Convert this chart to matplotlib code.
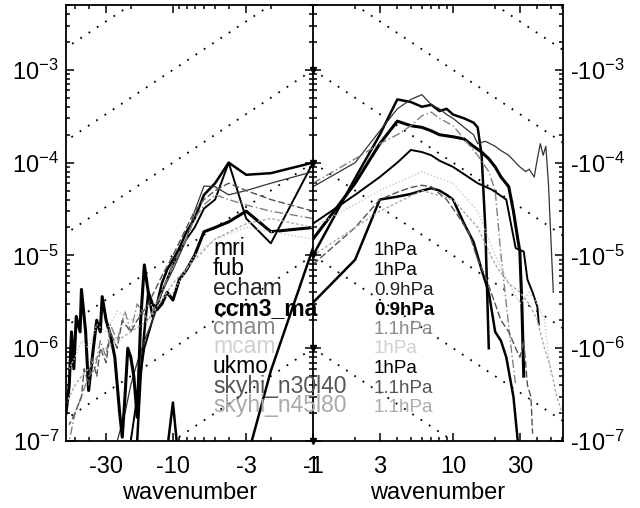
import numpy as np
import matplotlib
matplotlib.use('Agg')
import matplotlib.pyplot as plt
from matplotlib.ticker import FixedLocator, NullFormatter, LogLocator

plt.rcParams['font.family'] = ['Liberation Sans', 'DejaVu Sans']
plt.rcParams['mathtext.fontset'] = 'custom'
plt.rcParams['mathtext.rm'] = 'Liberation Sans'
plt.rcParams['mathtext.it'] = 'Liberation Sans:italic'
plt.rcParams['mathtext.bf'] = 'Liberation Sans:bold'

# ---------------- data ----------------
models = ['mri', 'fub', 'echam', 'ccm3_ma', 'cmam', 'mcam', 'ukmo',
          'skyhi_n30l40', 'skyhi_n45l80']
levels = ['1hPa', '1hPa', '0.9hPa', '0.9hPa', '1.1hPa', '1hPa', '1hPa',
          '1.1hPa', '1.1hPa']

# westward (negative) wavenumbers, stored as |k|
mri_w_k = [1, 2, 3, 4, 5, 6, 7, 8, 9, 10, 11, 12, 13, 14, 15, 16, 17, 18]
mri_w_v = [1.0e-4, 7.7e-5, 7.4e-5, 1.0e-4, 6.0e-5, 4.5e-5, 2.5e-5, 1.8e-5, 1.2e-5,
           9e-6, 7e-6, 5e-6, 3e-6, 2.2e-6, 4e-6, 1.5e-6, 5e-7, 1e-7]
fub_w_k = [1, 2, 3, 4, 5, 6, 7, 8, 10, 12, 14, 16, 18, 20]
fub_w_v = [1.0e-4, 1.35e-5, 2.5e-5, 1.0e-4, 4.0e-5, 3.2e-5, 2.0e-5, 1.5e-5, 8e-6,
           4e-6, 2e-6, 1e-6, 3e-7, 1e-7]
echam_w_k = [1, 2, 3, 4, 5, 6, 7, 8, 9, 10, 12, 14, 16, 18, 20, 22, 25]
echam_w_v = [8e-5, 6e-5, 5e-5, 4.5e-5, 5.5e-5, 5.6e-5, 3e-5, 1.5e-5, 1e-5, 7e-6,
             4e-6, 2e-6, 1.2e-6, 7e-7, 4e-7, 2e-7, 1e-7]
ccm3_w_k = [1, 2, 3, 4, 5, 6, 7, 8, 9, 10, 11, 12, 13, 14, 15, 16, 17, 18, 19, 20,
            21, 22, 23, 24, 26, 28, 30, 32, 33, 35, 37, 40, 42, 45, 46, 49, 51, 53,
            55, 58]
ccm3_w_v = [2e-5, 1.8e-5, 3e-5, 2.3e-5, 2.0e-5, 1.8e-5, 1e-5, 7e-6, 5.5e-6, 3.3e-6,
            4e-6, 3e-6, 2.6e-6, 3e-6, 4e-6, 7.9e-6, 2e-6, 1.8e-7, 4.9e-7, 8e-7,
            1e-6, 3e-7, 1.1e-7, 2e-7, 8e-7, 1.4e-6, 2e-6, 3.6e-6, 1.5e-6, 2e-6,
            1e-6, 3.5e-7, 1.5e-6, 4.3e-6, 1.5e-6, 2.2e-6, 6e-7, 1.5e-6, 4e-7, 2e-7]
cmam_w_k = [1, 2, 3, 4, 5, 6, 7, 8, 10, 12, 15, 18, 20, 22, 25, 28, 30, 33, 36,
            40, 45, 50, 55]
cmam_w_v = [2.5e-5, 3e-5, 3.5e-5, 4e-5, 4.5e-5, 3.5e-5, 2.5e-5, 1.5e-5, 8e-6,
            4e-6, 2e-6, 3e-6, 1.5e-6, 2.5e-6, 1.2e-6, 1.8e-6, 8e-7, 1.2e-6, 6e-7,
            5e-7, 3e-7, 2e-7, 1e-7]
mcam_w_k = [1, 2, 3, 5, 7, 10, 14, 20, 25, 30, 35, 40, 45, 50, 55]
mcam_w_v = [1.5e-5, 1.8e-5, 2e-5, 1.5e-5, 1e-5, 4e-6, 3e-6, 2e-6, 2.5e-6, 1.5e-6,
            1.8e-6, 1e-6, 1.2e-6, 8e-7, 6e-7]
ukmo_w_k = [1, 2, 3, 4, 6, 8, 9, 10, 11]
ukmo_w_v = [1.2e-5, 5.7e-7, 6e-8, 3e-8, 3e-8, 3e-8, 5e-8, 2.6e-7, 8e-8]
sky30_w_k = [1, 2, 3, 4, 5, 6, 7, 8, 10, 12, 15, 18, 20, 23, 25, 28, 30, 33, 35,
             38, 40, 43, 45, 50, 55]
sky30_w_v = [3e-5, 4e-5, 5e-5, 6e-5, 5e-5, 4e-5, 3e-5, 2e-5, 1e-5, 6e-6, 3e-6,
             2e-6, 1.5e-6, 2e-6, 1e-6, 1.5e-6, 7e-7, 1e-6, 5e-7, 8e-7, 4e-7,
             6e-7, 3e-7, 2e-7, 1.5e-7]
sky45_w_k = [1, 2, 3, 5, 7, 10, 15, 20, 25, 30, 35, 40, 45, 50, 55, 58]
sky45_w_v = [2e-5, 2.5e-5, 2.2e-5, 1.5e-5, 9e-6, 5e-6, 2e-6, 1.5e-6, 1.2e-6,
             1e-6, 8e-7, 6e-7, 5e-7, 4e-7, 3e-7, 2.5e-7]

# eastward (positive) wavenumbers
mri_e_k = [1, 2, 3, 4, 5, 6, 7, 8, 9, 10, 12, 14, 15, 16, 17, 18]
mri_e_v = [1.0e-5, 6.8e-5, 2.0e-4, 4.8e-4, 4.5e-4, 4.0e-4, 4.2e-4, 3.6e-4, 3.8e-4,
           3.3e-4, 3.0e-4, 2.7e-4, 2.4e-4, 1.2e-4, 2.0e-5, 1.0e-6]
fub_e_k = [1, 2, 3, 4, 5, 6, 7, 8, 10, 12, 15, 19, 24, 28, 32, 34, 37, 40, 41]
fub_e_v = [2.2e-5, 4.5e-5, 7e-5, 1.0e-4, 1.37e-4, 1.3e-4, 1.2e-4, 1.05e-4, 9e-5,
           7.5e-5, 6e-5, 5.1e-5, 4e-5, 1.2e-5, 1.1e-5, 5.5e-6, 4e-6, 2.8e-6, 1.8e-6]
echam_e_k = [1, 2, 3, 4, 5, 6, 7, 8, 9, 10, 12, 14, 15, 17, 20, 22, 25, 28, 30,
             33, 35, 38, 40, 42, 44, 46, 48, 50, 52]
echam_e_v = [5.5e-5, 1.0e-4, 2.2e-4, 3.8e-4, 4.8e-4, 5.4e-4, 4.2e-4, 3.8e-4, 3.3e-4,
             3.0e-4, 2.4e-4, 2.0e-4, 1.6e-4, 1.7e-4, 1.5e-4, 1.35e-4, 1.2e-4,
             1.0e-4, 9e-5, 8e-5, 8.5e-5, 7e-5, 1.1e-4, 1.6e-4, 1.2e-4, 1.5e-4,
             6e-5, 1.5e-5, 4e-6]
ccm3_e_k = [1, 2, 3, 4, 5, 6, 7, 8, 10, 12, 14, 16, 18, 20, 22, 25, 27, 29, 30,
            31, 32]
ccm3_e_v = [1.5e-5, 6e-5, 1.6e-4, 2.8e-4, 2.5e-4, 2.4e-4, 2.2e-4, 2.0e-4, 1.9e-4,
            1.8e-4, 1.5e-4, 1.3e-4, 1.1e-4, 9e-5, 7e-5, 5.5e-5, 3e-5, 1.5e-5,
            1.1e-5, 3e-6, 5e-7]
cmam_e_k = [1, 2, 3, 4, 5, 6, 7, 8, 10, 12, 15, 18, 20, 22, 24, 26, 28]
cmam_e_v = [6e-5, 1.1e-4, 1.6e-4, 2e-4, 2.5e-4, 3.2e-4, 3.5e-4, 3e-4, 2.5e-4,
            1.8e-4, 1.2e-4, 8e-5, 5e-5, 1e-5, 3e-6, 1e-6, 4e-7]
mcam_e_k = [1, 3, 6, 10, 15, 20, 25, 30, 35, 40, 45, 50]
mcam_e_v = [2e-5, 5e-5, 8e-5, 6e-5, 3e-5, 1e-5, 5e-6, 3e-6, 4e-6, 3e-6, 2e-6, 5e-7]
ukmo_e_k = [1, 2, 3, 4, 5, 6, 7, 8, 9, 10, 12, 14, 16, 18, 20, 22, 24, 27, 29]
ukmo_e_v = [3.1e-6, 9e-6, 4e-5, 4.3e-5, 4.6e-5, 5e-5, 5.3e-5, 5e-5, 4.5e-5, 4e-5,
            2.2e-5, 1.4e-5, 7e-6, 4e-6, 1.5e-6, 1.2e-6, 8e-7, 3e-7, 1e-7]
sky30_e_k = [1, 2, 3, 4, 5, 6, 7, 9, 11, 13, 15, 17, 20, 22, 25, 28, 30, 32, 34,
             36, 37]
sky30_e_v = [8e-6, 2e-5, 4e-5, 4.8e-5, 5.4e-5, 5.7e-5, 5.5e-5, 4e-5, 2.6e-5,
             1.75e-5, 9e-6, 6e-6, 3e-6, 2e-6, 1.5e-6, 1e-6, 8e-7, 1.2e-6, 4e-7,
             3e-7, 1.2e-7]
sky45_e_k = [1, 3, 6, 10, 15, 20, 25, 30, 35, 40, 45, 50, 55, 60]
sky45_e_v = [1e-5, 3e-5, 5e-5, 4e-5, 2e-5, 8e-6, 5e-6, 4e-6, 3e-6, 2e-6, 1e-6,
             6e-7, 3e-7, 2e-7]

ref_consts = [1e-6, 1e-5, 1e-4, 1e-3, 1e-2, 1e-1]
ytick_vals = [1e-7, 1e-6, 1e-5, 1e-4, 1e-3]
ytick_left = [r'$10^{-7}$', r'$10^{-6}$', r'$10^{-5}$', r'$10^{-4}$', r'$10^{-3}$']
ytick_right = [r'-$10^{-7}$', r'-$10^{-6}$', r'-$10^{-5}$', r'-$10^{-4}$', r'-$10^{-3}$']
xtick_w = [30, 10, 3, 1]
xtick_w_lbl = ['-30', '-10', '-3', '-1']
xtick_e = [1, 3, 10, 30]
xtick_e_lbl = ['1', '3', '10', '30']

west = [(mri_w_k, mri_w_v), (fub_w_k, fub_w_v), (echam_w_k, echam_w_v),
        (ccm3_w_k, ccm3_w_v), (cmam_w_k, cmam_w_v), (mcam_w_k, mcam_w_v),
        (ukmo_w_k, ukmo_w_v), (sky30_w_k, sky30_w_v), (sky45_w_k, sky45_w_v)]
east = [(mri_e_k, mri_e_v), (fub_e_k, fub_e_v), (echam_e_k, echam_e_v),
        (ccm3_e_k, ccm3_e_v), (cmam_e_k, cmam_e_v), (mcam_e_k, mcam_e_v),
        (ukmo_e_k, ukmo_e_v), (sky30_e_k, sky30_e_v), (sky45_e_k, sky45_e_v)]

styles = [dict(color='black', lw=1.8, ls='-'),
          dict(color='black', lw=1.4, ls='-'),
          dict(color='#333333', lw=0.9, ls='-'),
          dict(color='black', lw=2.2, ls='-'),
          dict(color='#808080', lw=1.0, ls=(0, (6, 2, 1, 2))),
          dict(color='#c8c8c8', lw=1.0, ls=(0, (1, 1.5))),
          dict(color='black', lw=1.8, ls='-'),
          dict(color='#555555', lw=1.0, ls=(0, (5, 2))),
          dict(color='#aaaaaa', lw=1.0, ls=(0, (2, 1.5)))]
text_colors = ['black', 'black', '#222222', 'black', '#8a8a8a', '#d0d0d0',
               'black', '#555555', '#aaaaaa']
text_weights = ['normal', 'normal', 'normal', 'bold', 'normal', 'normal',
                'normal', 'normal', 'normal']

# ---------------- figure ----------------
W, H = 640, 508
fig = plt.figure(figsize=(W / 100, H / 100), dpi=100)
x0, xm, x1 = 66, 313, 563
ytop, ybot = 5, 441
axw = fig.add_axes([x0 / W, 1 - ybot / H, (xm - x0) / W, (ybot - ytop) / H])
axe = fig.add_axes([xm / W, 1 - ybot / H, (x1 - xm) / W, (ybot - ytop) / H])

ylim = (1e-7, 5.0e-3)
for ax, lim in ((axw, (58, 1)), (axe, (1, 61))):
    ax.set_xscale('log')
    ax.set_yscale('log')
    ax.set_xlim(*lim)
    ax.set_ylim(*ylim)
    ax.patch.set_alpha(0)
    for s in ax.spines.values():
        s.set_linewidth(1.3)
    kk = np.logspace(0, 2, 100)
    for c in ref_consts:
        ax.plot(kk, c / kk, color='black', lw=1.3, ls=(0, (1, 4.5)))
    ax.yaxis.set_major_locator(FixedLocator(ytick_vals))
    ax.yaxis.set_minor_locator(LogLocator(base=10, subs=np.arange(2, 10)))
    ax.yaxis.set_minor_formatter(NullFormatter())
    ax.xaxis.set_minor_locator(LogLocator(base=10, subs=np.arange(2, 10)))
    ax.xaxis.set_minor_formatter(NullFormatter())
    ax.tick_params(which='both', direction='in', top=True, labelsize=17, width=1.1)
    ax.tick_params(which='major', length=6)
    ax.tick_params(which='minor', length=3)
    ax.tick_params(axis='x', pad=11)
    ax.set_xlabel('wavenumber', fontsize=17, labelpad=3)

for (k, v), st in zip(west, styles):
    axw.plot(k, v, **st)
for (k, v), st in zip(east, styles):
    axe.plot(k, v, **st)

axw.xaxis.set_major_locator(FixedLocator(xtick_w))
axw.set_xticklabels(xtick_w_lbl)
axw.set_yticklabels(ytick_left)
axw.spines['right'].set_visible(False)
axw.tick_params(axis='y', which='both', left=True, right=True, direction='in')
axw.tick_params(axis='y', pad=5)

axe.xaxis.set_major_locator(FixedLocator(xtick_e))
axe.set_xticklabels(xtick_e_lbl)
axe.yaxis.set_ticks_position('both')
axe.tick_params(axis='y', which='both', left=True, right=True, direction='in',
                labelleft=False, labelright=True, pad=5)
axe.set_yticklabels(ytick_right)
axe.plot([1] * len(ytick_vals), ytick_vals, ls='none', marker='v', ms=5,
         color='black', clip_on=False, zorder=5)

# legend-like labels
baselines = [255, 275, 295, 315, 334, 353, 373, 393, 412]
for name, lev, yb, col, wt in zip(models, levels, baselines, text_colors, text_weights):
    fig.text(213 / W, 1 - yb / H, name, fontsize=16.5, color=col, weight=wt,
             va='baseline', ha='left')
    fig.text(374 / W, 1 - yb / H, lev, fontsize=13.5, color=col, weight=wt,
             va='baseline', ha='left')

fig.savefig('out.png', dpi=100)
